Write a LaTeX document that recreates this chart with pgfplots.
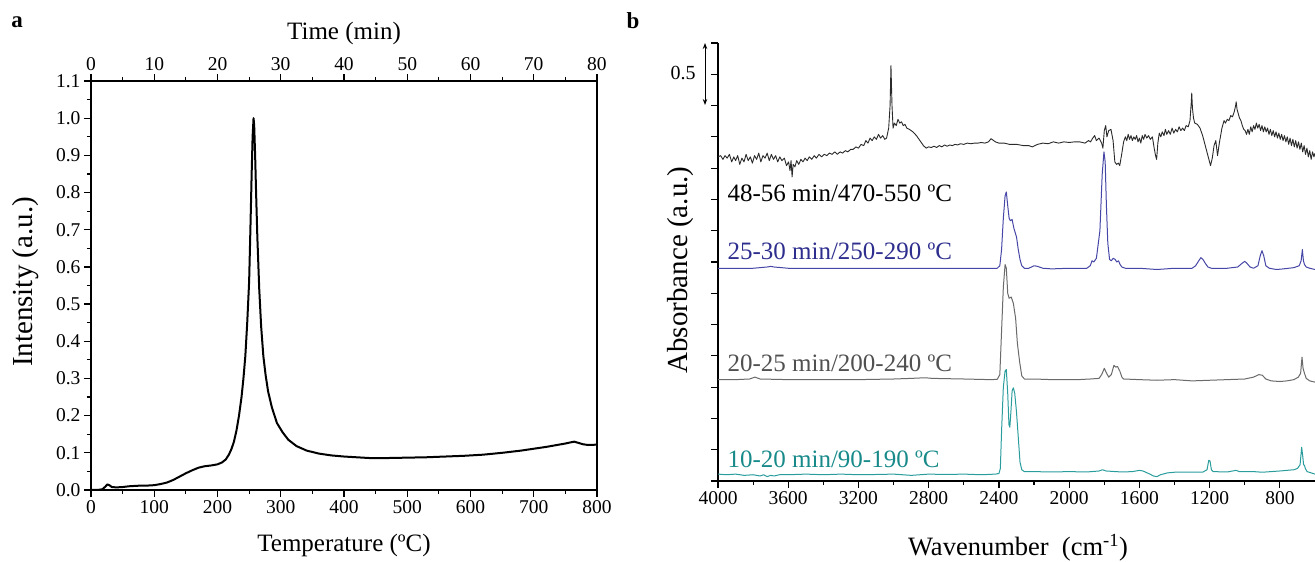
\documentclass[border=0pt]{standalone}
\usepackage{pgfplots}
\usepackage{pgfplotstable}
\pgfplotsset{compat=1.18}
\usetikzlibrary{arrows.meta}
\usepackage{fontspec}
\setmainfont{Liberation Serif}

\definecolor{spblack}{HTML}{2A2A2A}
\definecolor{spblue}{HTML}{4646A6}
\definecolor{txblue}{HTML}{2E2E8E}
\definecolor{spgray}{HTML}{6A6A6A}
\definecolor{txgray}{HTML}{505050}
\definecolor{spteal}{HTML}{2A9C9C}
\definecolor{txteal}{HTML}{188A8A}

% TG curve, temperature vs intensity
\pgfplotstableread{
T I
0 0.0
10 0.0
18 0.002
22 0.008
26 0.015
29 0.013
33 0.008
40 0.007
50 0.008
60 0.010
70 0.011
80 0.012
90 0.012
100 0.013
110 0.016
120 0.020
130 0.027
140 0.036
150 0.045
160 0.053
170 0.060
180 0.064
190 0.066
200 0.069
207 0.074
213 0.082
218 0.095
222 0.110
226 0.130
230 0.160
234 0.200
238 0.250
241 0.300
244 0.360
247 0.450
250 0.560
252 0.700
254 0.850
255.5 0.950
257 1.000
258 0.980
259.5 0.900
261 0.800
263 0.680
266 0.540
269 0.440
272.5 0.360
276 0.310
280 0.265
286 0.222
294 0.180
303 0.155
312 0.135
325 0.118
341 0.106
360 0.098
380 0.093
400 0.090
420 0.088
440 0.086
470 0.086
500 0.087
530 0.088
560 0.090
590 0.092
620 0.095
650 0.100
680 0.106
700 0.111
720 0.116
740 0.122
750 0.125
758 0.128
764 0.130
770 0.127
778 0.123
786 0.121
800 0.122
}\tga

% FTIR spectra, wavenumber vs absorbance (offset)
\pgfplotstableread{
nu a
4000 2.59
3985 2.60
3972 2.57
3960 2.60
3948 2.58
3935 2.61
3922 2.55
3910 2.59
3900 2.56
3888 2.60
3876 2.53
3864 2.58
3852 2.55
3840 2.61
3828 2.56
3816 2.59
3804 2.54
3792 2.60
3780 2.57
3768 2.62
3756 2.55
3744 2.60
3732 2.58
3720 2.62
3708 2.56
3696 2.61
3684 2.57
3672 2.60
3660 2.55
3648 2.59
3636 2.56
3622 2.58
3610 2.52
3598 2.55
3590 2.48
3584 2.56
3578 2.43
3572 2.53
3562 2.51
3552 2.56
3540 2.53
3528 2.57
3516 2.55
3504 2.58
3492 2.56
3480 2.59
3466 2.57
3452 2.60
3440 2.58
3425 2.61
3410 2.59
3395 2.61
3380 2.60
3365 2.62
3350 2.61
3335 2.63
3320 2.61
3305 2.63
3290 2.62
3275 2.64
3260 2.63
3245 2.65
3230 2.65
3215 2.67
3200 2.66
3185 2.69
3170 2.68
3158 2.72
3146 2.70
3134 2.74
3122 2.72
3110 2.75
3098 2.73
3086 2.77
3074 2.74
3062 2.76
3050 2.73
3040 2.74
3028 2.82
3020 3.00
3015 3.32
3009 3.00
3003 2.82
2995 2.86
2985 2.84
2975 2.89
2965 2.86
2955 2.87
2945 2.84
2935 2.85
2925 2.82
2910 2.81
2890 2.79
2870 2.76
2850 2.72
2830 2.68
2815 2.66
2800 2.67
2785 2.665
2770 2.675
2755 2.665
2740 2.68
2725 2.67
2710 2.685
2695 2.675
2680 2.685
2665 2.68
2650 2.69
2635 2.685
2620 2.695
2600 2.69
2580 2.70
2560 2.695
2540 2.70
2520 2.70
2500 2.705
2480 2.70
2460 2.71
2445 2.735
2435 2.725
2420 2.71
2400 2.70
2370 2.70
2340 2.69
2300 2.69
2260 2.68
2230 2.68
2210 2.67
2180 2.69
2150 2.70
2120 2.695
2090 2.71
2060 2.70
2030 2.71
2000 2.705
1970 2.71
1940 2.71
1910 2.70
1890 2.72
1878 2.71
1866 2.74
1855 2.76
1845 2.72
1830 2.74
1815 2.70
1808 2.66
1800 2.80
1792 2.84
1785 2.75
1775 2.80
1762 2.81
1750 2.72
1740 2.55
1730 2.53
1720 2.54
1712 2.52
1700 2.62
1690 2.71
1680 2.75
1672 2.72
1664 2.77
1656 2.73
1648 2.76
1640 2.72
1632 2.75
1624 2.73
1616 2.76
1608 2.71
1600 2.74
1592 2.70
1584 2.76
1576 2.73
1568 2.77
1558 2.74
1548 2.76
1538 2.73
1526 2.75
1516 2.66
1508 2.60
1502 2.57
1495 2.70
1487 2.78
1478 2.75
1470 2.79
1460 2.76
1452 2.81
1444 2.77
1434 2.80
1424 2.77
1414 2.82
1404 2.78
1394 2.81
1384 2.79
1374 2.83
1364 2.80
1354 2.82
1344 2.80
1334 2.84
1322 2.83
1312 2.88
1305 3.02
1302 3.10
1298 2.98
1292 2.90
1285 2.86
1270 2.85
1255 2.82
1240 2.76
1225 2.68
1210 2.60
1195 2.52
1185 2.58
1175 2.68
1165 2.72
1155 2.60
1145 2.70
1130 2.82
1118 2.88
1110 2.86
1100 2.89
1090 2.88
1080 2.92
1070 2.91
1060 2.95
1052 3.00
1049 3.03
1044 2.97
1038 2.94
1030 2.90
1022 2.88
1014 2.84
1006 2.81
998 2.80
990 2.77
982 2.81
974 2.77
966 2.83
958 2.79
950 2.84
942 2.81
934 2.86
926 2.82
918 2.85
910 2.80
902 2.84
894 2.79
886 2.83
878 2.79
870 2.82
862 2.77
854 2.81
846 2.76
838 2.80
830 2.75
822 2.79
814 2.74
806 2.78
798 2.73
790 2.77
782 2.72
774 2.76
766 2.71
758 2.75
750 2.69
742 2.74
734 2.68
726 2.73
718 2.67
710 2.72
702 2.66
694 2.71
686 2.65
678 2.70
670 2.63
662 2.68
654 2.61
646 2.66
638 2.59
630 2.64
622 2.57
614 2.63
606 2.59
600 2.62
}\sblack

\pgfplotstableread{
nu a
4000 1.70
3900 1.70
3800 1.70
3720 1.71
3700 1.715
3680 1.71
3600 1.70
3400 1.70
3200 1.70
3000 1.70
2800 1.70
2600 1.70
2450 1.70
2410 1.70
2395 1.72
2385 1.85
2375 2.10
2365 2.28
2358 2.31
2350 2.20
2342 2.10
2335 2.08
2325 2.09
2315 2.02
2300 1.95
2290 1.85
2280 1.77
2270 1.72
2255 1.70
2230 1.70
2200 1.72
2180 1.715
2150 1.70
2100 1.695
2000 1.70
1900 1.70
1880 1.72
1870 1.76
1860 1.75
1845 1.78
1825 2.0
1812 2.45
1802 2.63
1795 2.55
1788 2.2
1780 1.9
1770 1.77
1760 1.76
1749 1.78
1738 1.77
1729 1.75
1719 1.76
1710 1.73
1700 1.71
1680 1.70
1600 1.70
1500 1.69
1400 1.70
1300 1.70
1280 1.72
1262 1.76
1250 1.785
1238 1.77
1225 1.74
1210 1.71
1190 1.70
1100 1.70
1040 1.71
1015 1.74
1000 1.755
988 1.74
970 1.71
950 1.70
925 1.72
912 1.80
902 1.84
892 1.80
880 1.72
860 1.70
820 1.69
780 1.695
750 1.70
720 1.705
690 1.72
679 1.76
672 1.85
666 1.76
660 1.73
650 1.71
630 1.70
600 1.69
}\sblue

\pgfplotstableread{
nu a
4000 0.81
3900 0.81
3820 0.815
3790 0.83
3760 0.815
3600 0.81
3400 0.81
3200 0.81
3000 0.815
2900 0.82
2820 0.825
2780 0.82
2600 0.815
2450 0.81
2410 0.812
2395 0.85
2385 1.20
2375 1.55
2365 1.73
2358 1.70
2350 1.50
2342 1.46
2330 1.47
2318 1.42
2305 1.30
2295 1.10
2282 0.95
2270 0.84
2255 0.815
2200 0.815
2100 0.81
1950 0.81
1880 0.815
1830 0.82
1815 0.85
1800 0.90
1790 0.87
1775 0.83
1760 0.85
1745 0.925
1735 0.91
1725 0.915
1712 0.88
1700 0.83
1690 0.815
1600 0.81
1500 0.805
1400 0.81
1300 0.80
1200 0.805
1100 0.81
1000 0.815
950 0.83
920 0.85
900 0.845
880 0.815
850 0.80
800 0.795
760 0.80
720 0.81
695 0.83
682 0.86
674 0.99
668 0.90
660 0.86
650 0.82
630 0.80
600 0.79
}\sgray

\pgfplotstableread{
nu a
4000 0.055
3950 0.050
3900 0.055
3850 0.045
3800 0.050
3760 0.040
3740 0.050
3720 0.035
3700 0.045
3680 0.040
3650 0.050
3600 0.050
3500 0.055
3400 0.050
3300 0.055
3200 0.050
3100 0.052
3000 0.055
2950 0.050
2900 0.045
2850 0.050
2800 0.055
2700 0.052
2600 0.055
2500 0.050
2420 0.055
2400 0.060
2392 0.10
2385 0.40
2375 0.75
2365 0.88
2358 0.89
2350 0.70
2343 0.45
2338 0.43
2332 0.55
2325 0.72
2318 0.745
2310 0.70
2300 0.55
2290 0.35
2280 0.15
2270 0.09
2255 0.075
2200 0.075
2100 0.072
2000 0.075
1900 0.072
1830 0.080
1810 0.090
1790 0.080
1700 0.072
1640 0.075
1600 0.085
1580 0.080
1540 0.055
1520 0.040
1500 0.035
1480 0.050
1440 0.065
1400 0.070
1300 0.070
1240 0.070
1215 0.090
1205 0.165
1198 0.160
1190 0.090
1180 0.075
1100 0.072
1050 0.085
1030 0.075
950 0.075
900 0.070
850 0.075
800 0.080
760 0.085
720 0.090
700 0.100
685 0.130
676 0.270
670 0.200
665 0.130
660 0.125
655 0.100
645 0.075
600 0.055
}\steal

\newcommand\tickfont{\fontsize{19.5}{21}\selectfont}
\newcommand\labfont{\fontsize{25}{27}\selectfont}
\newcommand\ylabfont{\fontsize{29}{31}\selectfont}

\begin{document}
\begin{tikzpicture}[x=1pt,y=1pt]
\useasboundingbox (0,0) rectangle (1315,562);
\pgfplotsset{
  every axis/.append style={
    scale only axis,
    tick align=outside,
    major tick length=7pt,
    minor tick length=4pt,
    axis line style={line width=1.3pt},
    every tick/.style={line width=1.2pt, black},
    tick label style={font=\tickfont},
    /pgf/number format/assume math mode=true,
  },
}

% panel a: temperature axis
\begin{axis}[
  at={(91pt,72pt)}, anchor=south west,
  width=506pt, height=409pt,
  xmin=0, xmax=800, ymin=0, ymax=1.1,
  xtick={0,100,200,300,400,500,600,700,800},
  minor x tick num=1,
  ytick={0,0.1,0.2,0.3,0.4,0.5,0.6,0.7,0.8,0.9,1.0,1.1},
  minor y tick num=1,
  yticklabel style={/pgf/number format/.cd, fixed, fixed zerofill, precision=1},
  xtick pos=left, ytick pos=left,
]
\addplot[line width=2pt, black, line join=round] table[x=T, y=I] {\tga};
\end{axis}

% panel a: time axis on top
\begin{axis}[
  at={(91pt,72pt)}, anchor=south west,
  width=506pt, height=409pt,
  xmin=0, xmax=80, ymin=0, ymax=1.1,
  axis x line*=top, hide y axis,
  axis line style={-},
  xtick={0,10,20,30,40,50,60,70,80},
  minor x tick num=1,
]
\end{axis}

% panel b: FTIR
\begin{axis}[
  at={(718pt,81pt)}, anchor=south west,
  width=597pt, height=438pt,
  xmin=-4000, xmax=-600, ymin=0, ymax=3.5,
  xtick={-4000,-3600,-3200,-2800,-2400,-2000,-1600,-1200,-800},
  xticklabels={4000,3600,3200,2800,2400,2000,1600,1200,800},
  minor x tick num=1,
  ytick={0,0.25,0.5,0.75,1,1.25,1.5,1.75,2,2.25,2.5,2.75,3,3.25,3.5},
  yticklabels={},
  axis x line*=bottom, axis y line*=left,
  axis line style={-},
]
\addplot[line width=0.9pt, spblack, line join=round] table[x expr=-\thisrow{nu}, y=a] {\sblack};
\addplot[line width=1pt, spblue, line join=round] table[x expr=-\thisrow{nu}, y=a] {\sblue};
\addplot[line width=1pt, spgray, line join=round] table[x expr=-\thisrow{nu}, y=a] {\sgray};
\addplot[line width=1pt, spteal, line join=round] table[x expr=-\thisrow{nu}, y=a] {\steal};
\end{axis}

% titles and panel letters
\node[font=\bfseries\fontsize{23}{25}\selectfont] at (17,540) {a};
\node[font=\bfseries\fontsize{23}{25}\selectfont] at (633,541) {b};
\node[font=\labfont] at (344,17) {Temperature (ºC)};
\node[font=\labfont] at (344,529) {Time (min)};
\node[font=\ylabfont, rotate=90] at (26,280) {Intensity (a.u.)};
\node[font=\ylabfont, rotate=90] at (681,292) {Absorbance (a.u.)};
\node[font=\fontsize{26.5}{28}\selectfont] at (1018,14) {Wavenumber\ \ (cm\textsuperscript{-1})};

% spectrum labels
\node[font=\labfont, anchor=west, text=black] at (724,369) {48-56 min/470-550 ºC};
\node[font=\labfont, anchor=west, text=txblue] at (724,311) {25-30 min/250-290 ºC};
\node[font=\labfont, anchor=west, text=txgray] at (724,199) {20-25 min/200-240 ºC};
\node[font=\labfont, anchor=west, text=txteal] at (724,103) {10-20 min/90-190 ºC};

% scale bar
\draw[line width=0.9pt, {Stealth[length=6pt]}-{Stealth[length=6pt]}] (705,519) -- (705,457);
\node[font=\fontsize{20}{22}\selectfont] at (683,489) {0.5};
\end{tikzpicture}
\end{document}
